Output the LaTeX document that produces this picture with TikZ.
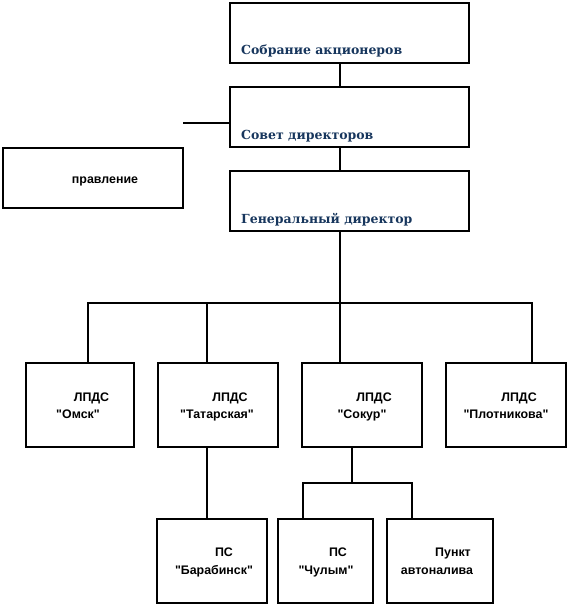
\documentclass[tikz,border=0pt]{standalone}
\usepackage{fontspec}
\newfontfamily\sansb{Liberation Sans}
\newfontfamily\serifb{DejaVu Serif}[BoldFont={DejaVu Serif Bold}]
\definecolor{navy}{RGB}{23,54,93}
\begin{document}
\begin{tikzpicture}[x=1pt,y=-1pt,
  box/.style={draw=black,line width=1.1pt,rectangle,inner sep=0pt,outer sep=0pt,fill=white},
  conn/.style={draw=black,line width=1.1pt},
  toptext/.style={anchor=base west,inner sep=0pt,font=\serifb\bfseries\fontsize{12.5}{14}\selectfont,text=navy},
  lbl/.style={anchor=base,inner sep=0pt,font=\sansb\bfseries\fontsize{12.4}{14}\selectfont,text=black}]
\useasboundingbox (0,0) rectangle (570,606);
% top chain
\node[box,minimum width=239pt,minimum height=60pt] (sob) at (349.5,33) {};
\node[box,minimum width=239pt,minimum height=60pt] (sov) at (349.5,117) {};
\node[box,minimum width=239pt,minimum height=60pt] (gen) at (349.5,201) {};
\node[box,minimum width=180pt,minimum height=60pt] (prav) at (93,178) {};
% level 2
\node[box,minimum width=108pt,minimum height=84pt] (omsk) at (80,405) {};
\node[box,minimum width=120pt,minimum height=84pt] (tat) at (218,405) {};
\node[box,minimum width=120pt,minimum height=84pt] (sok) at (362,405) {};
\node[box,minimum width=120pt,minimum height=84pt] (plot) at (506,405) {};
% level 3
\node[box,minimum width=110pt,minimum height=84pt] (bar) at (212,561) {};
\node[box,minimum width=95pt,minimum height=84pt] (chul) at (325.5,561) {};
\node[box,minimum width=106pt,minimum height=84pt] (punkt) at (440,561) {};
% texts
\node[toptext] (tsob) at (241,54) {Собрание акционеров};
\node[toptext] (tsov) at (241,139) {Совет директоров};
\node[toptext] (tgen) at (241,223) {Генеральный директор};
\node[lbl] (tprav) at (105,183) {правление};
\node[lbl] (o1) at (91.5,401) {ЛПДС};
\node[lbl] (o2) at (78,418) {"Омск"};
\node[lbl] (t1) at (230,401) {ЛПДС};
\node[lbl] (t2) at (217,418) {"Татарская"};
\node[lbl] (s1t) at (374,401) {ЛПДС};
\node[lbl] (s2t) at (362,418) {"Сокур"};
\node[lbl] (p1) at (519,401) {ЛПДС};
\node[lbl] (p2) at (506,418) {"Плотникова"};
\node[lbl] (b1) at (224,556) {ПС};
\node[lbl] (b2) at (214,574) {"Барабинск"};
\node[lbl] (c1t) at (338,556) {ПС};
\node[lbl] (c2t) at (326,574) {"Чулым"};
\node[lbl] (k1) at (453,556) {Пункт};
\node[lbl] (k2) at (437,574) {автоналива};
% coordinates
\coordinate (mx) at (340,0);
\coordinate (bus) at (340,303);
\coordinate (c1) at (88,303);
\coordinate (c2) at (207,303);
\coordinate (c4) at (532,303);
\coordinate (stub) at (183,123);
\coordinate (s) at (352,483);
\coordinate (s1) at (303,483);
\coordinate (s2) at (412,483);
% connectors
\draw[conn] (sob.south -| mx) -- (sov.north -| mx);
\draw[conn] (sov.south -| mx) -- (gen.north -| mx);
\draw[conn] (gen.south -| mx) -- (bus);
\draw[conn] (stub) -- (stub -| sov.west);
\draw[conn] (omsk.north -| c1) -- (c1) -- (c4) -- (plot.north -| c4);
\draw[conn] (c2) -- (tat.north -| c2);
\draw[conn] (bus) -- (sok.north -| bus);
\draw[conn] (tat.south -| c2) -- (bar.north -| c2);
\draw[conn] (sok.south -| s) -- (s);
\draw[conn] (chul.north -| s1) -- (s1) -- (s2) -- (punkt.north -| s2);
\end{tikzpicture}
\end{document}
